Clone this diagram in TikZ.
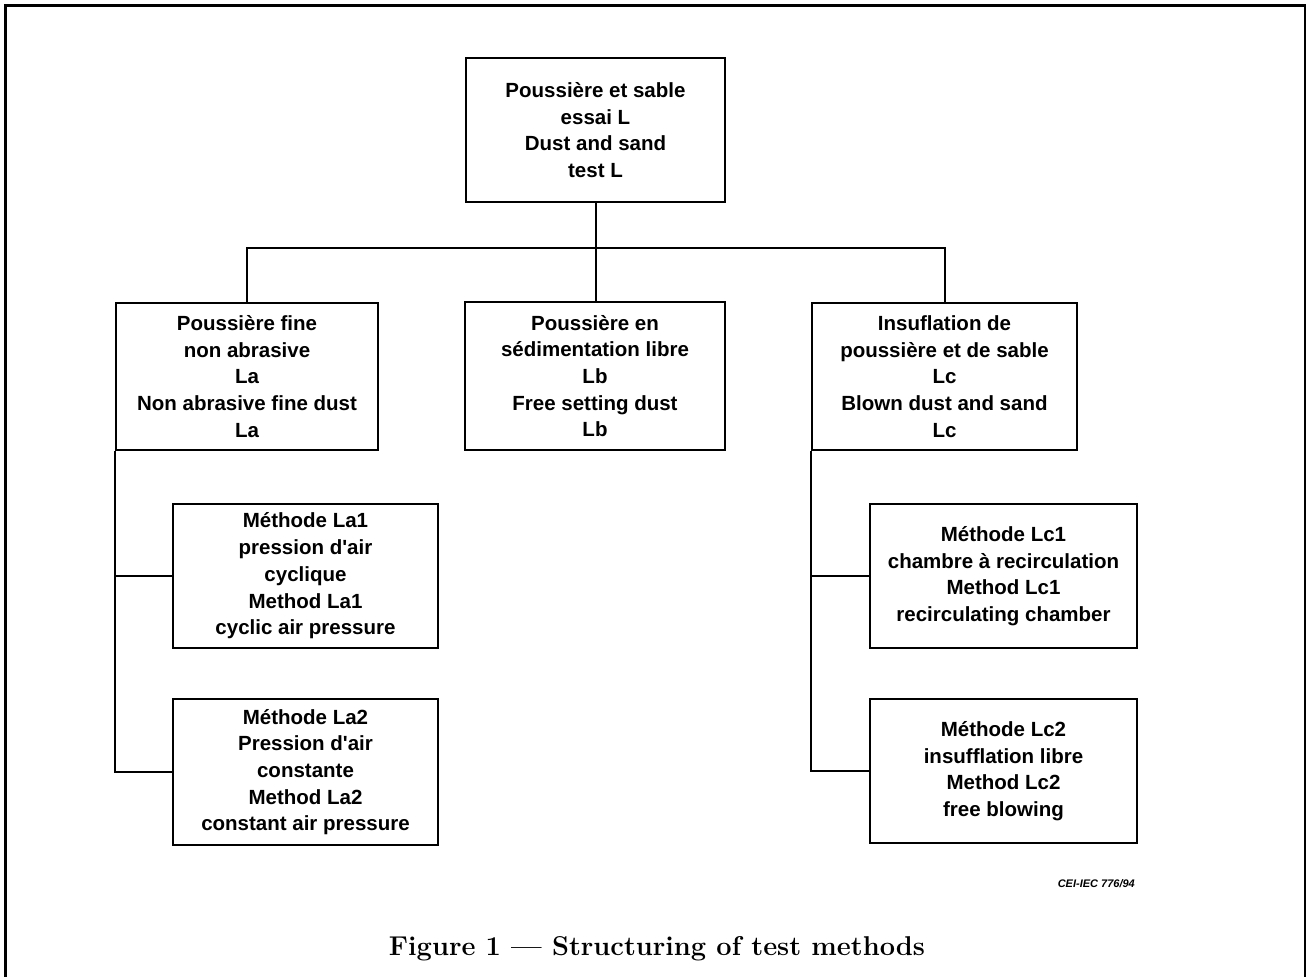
\documentclass[tikz,border=0pt]{standalone}
\usepackage{fontspec}
\newfontfamily\boxfont{Liberation Sans}
\begin{document}
\begin{tikzpicture}[x=1pt,y=-1pt,
  box/.style={draw, line width=2pt, inner sep=0pt, align=center,
    font=\boxfont\bfseries\fontsize{20.5}{26.7}\selectfont},
  conn/.style={line width=2pt},
  frame/.style={line width=2.6pt}]
\useasboundingbox (0,0) rectangle (1309,977);
\draw[frame] (5.5,977) -- (5.5,5.5) -- (1305,5.5) -- (1305,977);

\node[box, minimum width=259pt, minimum height=144pt] (top) at (595.5,130)
  {Poussière et sable\\essai L\\Dust and sand\\test L};
\node[box, minimum width=262pt, minimum height=147pt] (La) at (247,376.5)
  {Poussière fine\\non abrasive\\La\\Non abrasive fine dust\\La};
\node[box, minimum width=260pt, minimum height=148pt] (Lb) at (595,376)
  {Poussière en\\sédimentation libre\\Lb\\Free setting dust\\Lb};
\node[box, minimum width=265pt, minimum height=147pt] (Lc) at (944.5,376.5)
  {Insuflation de\\poussière et de sable\\Lc\\Blown dust and sand\\Lc};
\node[box, minimum width=265pt, minimum height=144pt] (La1) at (305.5,576)
  {Méthode La1\\pression d'air\\cyclique\\Method La1\\cyclic air pressure};
\node[box, minimum width=265pt, minimum height=146pt] (La2) at (305.5,772)
  {Méthode La2\\Pression d'air\\constante\\Method La2\\constant air pressure};
\node[box, minimum width=267pt, minimum height=144pt] (Lc1) at (1003.5,576)
  {Méthode Lc1\\chambre à recirculation\\Method Lc1\\recirculating chamber};
\node[box, minimum width=267pt, minimum height=144pt] (Lc2) at (1003.5,771)
  {Méthode Lc2\\insufflation libre\\Method Lc2\\free blowing};

\coordinate (bus) at (595,248);
\draw[conn] (top.south) -- (top.south |- Lb.north);
\draw[conn] (La.north) |- (bus) -| (Lc.north);
\draw[conn] (La.south west) |- (La1.west);
\draw[conn] (La.south west) |- (La2.west);
\draw[conn] (Lc.south west) |- (Lc1.west);
\draw[conn] (Lc.south west) |- (Lc2.west);

\node[font=\boxfont\bfseries\itshape\fontsize{11}{13}\selectfont, anchor=base east, inner sep=0pt] (code) at (1135,887) {CEI-IEC 776/94};
\node[font=\bfseries\fontsize{27.2}{30}\selectfont, anchor=base, inner sep=0pt] (cap) at (657,955) {Figure 1 — Structuring of test methods};
\end{tikzpicture}
\end{document}
